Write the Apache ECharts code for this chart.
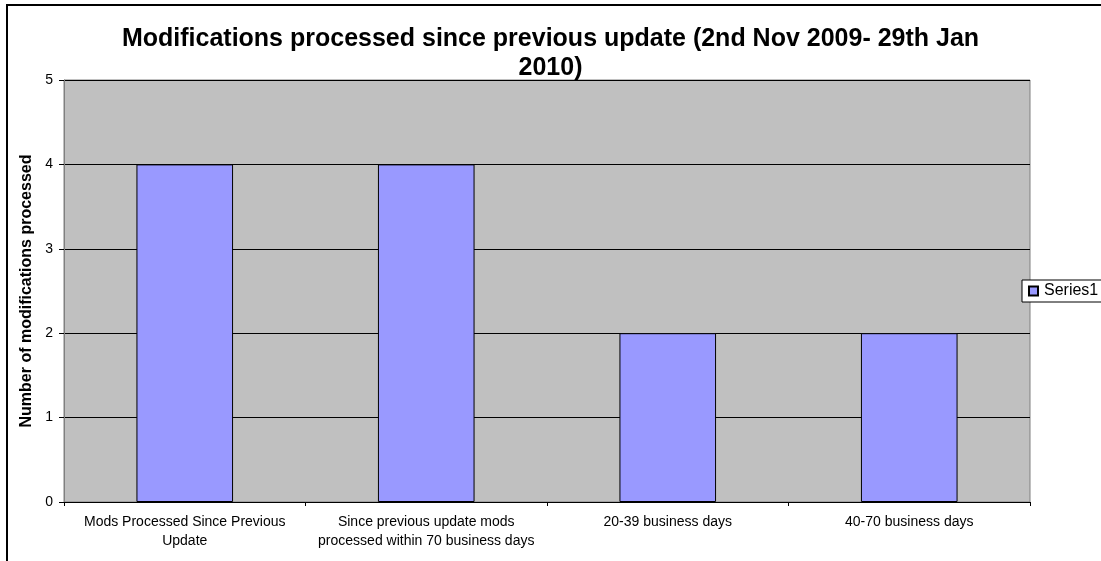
<!DOCTYPE html>
<html>
<head>
<meta charset="utf-8">
<script src="https://cdn.jsdelivr.net/npm/echarts@6/dist/echarts.min.js"></script>
<style>
html,body{margin:0;padding:0;background:#fff;}
#chart{width:1101px;height:561px;}
</style>
</head>
<body>
<div id="chart"></div>
<script>
var titleText = "Modifications processed since previous update (2nd Nov 2009- 29th Jan\n2010)";
var yAxisName = "Number of modifications processed";
var categories = [
  "Mods Processed Since Previous\nUpdate",
  "Since previous update mods\nprocessed within 70 business days",
  "20-39 business days",
  "40-70 business days"
];
var seriesName = "Series1";
var seriesValues = [4, 4, 2, 2];
var yTicks = [0, 1, 2, 3, 4, 5];

var chart = echarts.init(document.getElementById('chart'), null, {renderer: 'canvas'});
var font = 'Arial, "Liberation Sans", sans-serif';
chart.setOption({
  animation: false,
  backgroundColor: '#ffffff',
  title: {
    text: titleText,
    left: 'center',
    top: 25,
    padding: 0,
    z: 10,
    textStyle: {fontFamily: font, fontSize: 25, fontWeight: 'bold', color: '#000', lineHeight: 29}
  },
  graphic: [{
    type: 'rect', silent: true, z: 100,
    shape: {x: 7, y: 5, width: 1200, height: 700},
    style: {fill: 'none', stroke: '#000', lineWidth: 2}
  }],
  legend: {
    data: [seriesName],
    left: 1022, top: 280,
    padding: [3, 30, 3, 6],
    itemWidth: 9, itemHeight: 9, itemGap: 6,
    borderColor: '#000', borderWidth: 1, backgroundColor: '#fff',
    icon: 'rect',
    textStyle: {fontFamily: font, fontSize: 16, color: '#000', padding: [0,0,0,1]}
  },
  grid: {
    left: 64, right: 71, top: 80, bottom: 59,
    show: true, backgroundColor: '#c0c0c0', borderColor: '#808080', borderWidth: 1
  },
  xAxis: {
    type: 'category',
    data: categories,
    axisLine: {lineStyle: {color: '#000', width: 1}},
    axisTick: {show: true, length: 4, lineStyle: {color: '#000'}},
    axisLabel: {fontFamily: font, fontSize: 14, color: '#000', margin: 11, lineHeight: 19, interval: 0},
    splitLine: {show: false}
  },
  yAxis: {
    type: 'value',
    min: yTicks[0], max: yTicks[yTicks.length - 1], interval: 1,
    name: yAxisName,
    nameLocation: 'middle',
    nameRotate: 90,
    nameGap: 28,
    nameTextStyle: {fontFamily: font, fontSize: 16, fontWeight: 'bold', color: '#000'},
    axisLine: {show: true, lineStyle: {color: '#808080', width: 1}},
    axisTick: {show: true, length: 5, lineStyle: {color: '#000'}},
    axisLabel: {fontFamily: font, fontSize: 14, color: '#000', margin: 11},
    splitLine: {show: true, lineStyle: {color: '#000', width: 1}}
  },
  series: [{
    name: seriesName,
    type: 'bar',
    data: seriesValues,
    barWidth: '40%',
    itemStyle: {color: '#9999ff', borderColor: '#000', borderWidth: 1}
  }]
});
</script>
</body>
</html>
